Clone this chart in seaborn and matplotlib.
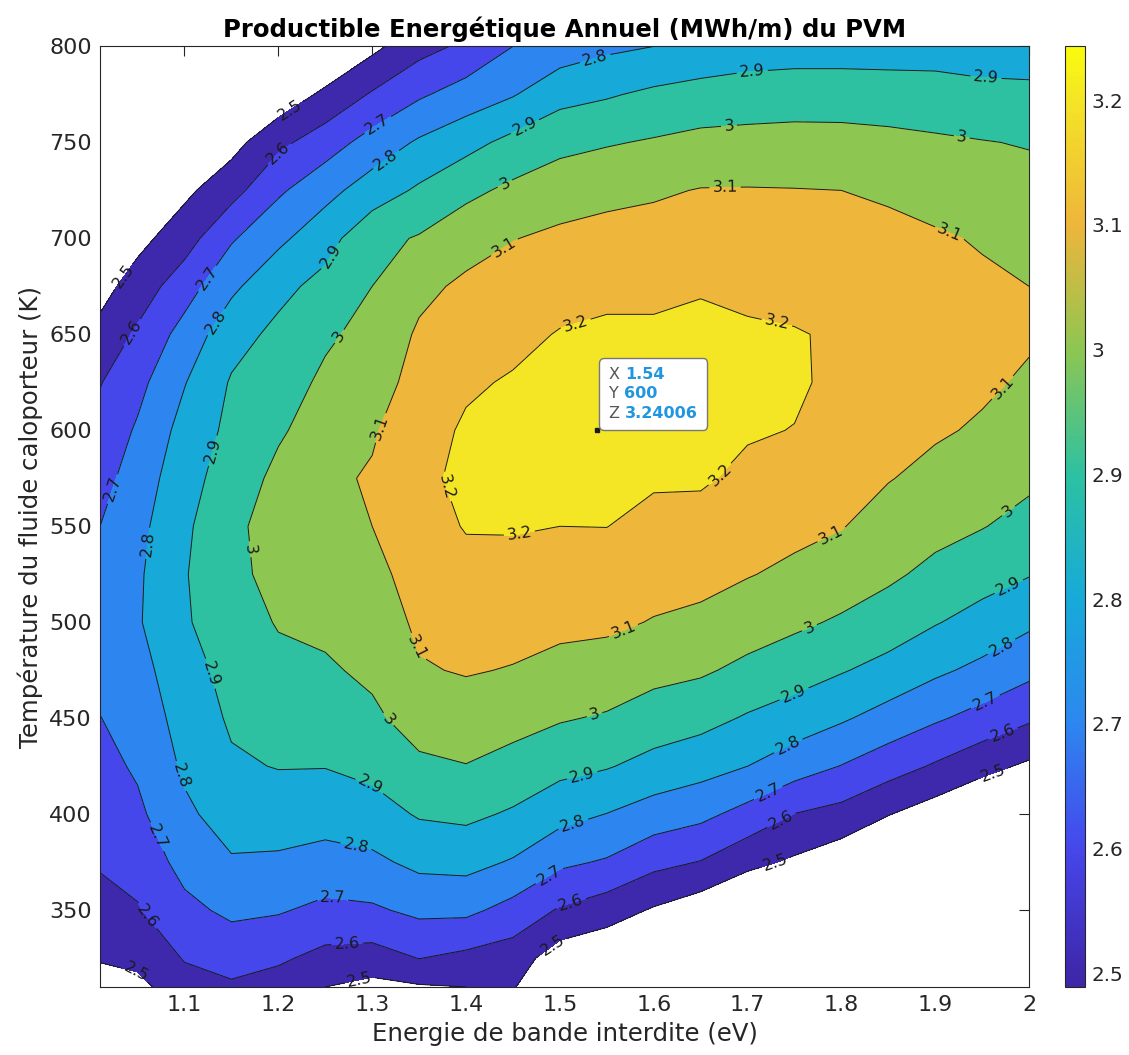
import numpy as np
import pandas as pd
import matplotlib
matplotlib.use("Agg")
import matplotlib.pyplot as plt
import seaborn as sns
from matplotlib.colors import LinearSegmentedColormap, Normalize
from matplotlib.cm import ScalarMappable
from matplotlib.offsetbox import TextArea, HPacker, VPacker, AnnotationBbox

# band gap (eV) and coolant temperature (K) grid
gap_ev = [1.01, 1.05, 1.1, 1.15, 1.2, 1.25, 1.3, 1.35, 1.4, 1.45, 1.5,
          1.55, 1.6, 1.65, 1.7, 1.75, 1.8, 1.85, 1.9, 1.95, 2.0]
temp_k = [310, 325, 350, 375, 400, 425, 450, 475, 500, 525, 550,
          575, 600, 625, 650, 675, 700, 725, 750, 775, 800]

# annual yield (MWh/m), one list per temperature
z_310 = [2.45, 2.47, 2.564, 2.586, 2.558, 2.50, 2.47, 2.49, 2.50, 2.51, 2.36, 2.31, 2.25, 2.20, 2.15, 2.10, 2.05, 2.05, 2.00, 1.98, 1.96]
z_325 = [2.509, 2.528, 2.606, 2.638, 2.615, 2.571, 2.559, 2.602, 2.575, 2.55, 2.447, 2.416, 2.35, 2.29, 2.23, 2.21, 2.16, 2.09, 2.06, 2.03, 2.00]
z_350 = [2.564, 2.592, 2.675, 2.72, 2.709, 2.676, 2.686, 2.722, 2.723, 2.666, 2.59, 2.547, 2.49, 2.44, 2.38, 2.346, 2.30, 2.23, 2.175, 2.12, 2.07]
z_375 = [2.61, 2.637, 2.732, 2.791, 2.785, 2.766, 2.779, 2.824, 2.831, 2.791, 2.719, 2.69, 2.628, 2.596, 2.528, 2.484, 2.434, 2.37, 2.313, 2.258, 2.21]
z_400 = [2.64, 2.68, 2.782, 2.841, 2.848, 2.839, 2.859, 2.909, 2.921, 2.888, 2.833, 2.798, 2.755, 2.725, 2.667, 2.598, 2.568, 2.504, 2.45, 2.395, 2.346]
z_425 = [2.669, 2.713, 2.815, 2.887, 2.904, 2.903, 2.927, 2.982, 2.997, 2.967, 2.929, 2.907, 2.868, 2.838, 2.80, 2.746, 2.697, 2.644, 2.589, 2.531, 2.483]
z_450 = [2.698, 2.739, 2.839, 2.913, 2.938, 2.946, 2.982, 3.04, 3.055, 3.034, 3.008, 2.99, 2.955, 2.932, 2.89, 2.855, 2.812, 2.762, 2.713, 2.666, 2.614]
z_475 = [2.73, 2.764, 2.863, 2.931, 2.973, 2.988, 3.018, 3.092, 3.107, 3.095, 3.073, 3.06, 3.029, 3.013, 2.977, 2.944, 2.907, 2.868, 2.818, 2.776, 2.726]
z_500 = [2.75, 2.79, 2.89, 2.952, 3.007, 3.02, 3.046, 3.117, 3.141, 3.135, 3.122, 3.118, 3.095, 3.079, 3.046, 3.018, 2.988, 2.952, 2.906, 2.864, 2.818]
z_525 = [2.73, 2.785, 2.894, 2.968, 3.039, 3.047, 3.073, 3.138, 3.175, 3.174, 3.161, 3.16, 3.137, 3.129, 3.105, 3.08, 3.051, 3.017, 2.975, 2.939, 2.905]
z_550 = [2.70, 2.77, 2.885, 2.965, 3.064, 3.08, 3.10, 3.165, 3.205, 3.206, 3.20, 3.201, 3.177, 3.172, 3.143, 3.125, 3.104, 3.064, 3.03, 3.004, 2.969]
z_575 = [2.666, 2.745, 2.862, 2.948, 3.023, 3.08, 3.11, 3.175, 3.224, 3.224, 3.225, 3.225, 3.21, 3.21, 3.182, 3.161, 3.128, 3.104, 3.076, 3.047, 3.018]
z_600 = [2.632, 2.712, 2.835, 2.925, 2.988, 3.044, 3.089, 3.165, 3.211, 3.233, 3.24, 3.24, 3.235, 3.232, 3.208, 3.198, 3.152, 3.126, 3.11, 3.09, 3.054]
z_625 = [2.595, 2.671, 2.795, 2.909, 2.956, 3.018, 3.06, 3.132, 3.188, 3.208, 3.228, 3.237, 3.238, 3.235, 3.226, 3.212, 3.18, 3.155, 3.13, 3.113, 3.089]
z_650 = [2.529, 2.616, 2.737, 2.863, 2.923, 2.985, 3.03, 3.113, 3.153, 3.177, 3.205, 3.215, 3.215, 3.22, 3.212, 3.205, 3.19, 3.17, 3.15, 3.13, 3.11]
z_675 = [2.464, 2.545, 2.655, 2.779, 2.873, 2.93, 3.0, 3.076, 3.118, 3.138, 3.165, 3.179, 3.179, 3.193, 3.18, 3.174, 3.175, 3.16, 3.135, 3.114, 3.10]
z_700 = [2.40, 2.47, 2.556, 2.689, 2.778, 2.862, 2.971, 3.008, 3.061, 3.097, 3.119, 3.132, 3.136, 3.148, 3.142, 3.139, 3.129, 3.121, 3.11, 3.093, 3.066]
z_725 = [2.34, 2.40, 2.478, 2.564, 2.684, 2.768, 2.848, 2.915, 2.976, 3.021, 3.055, 3.074, 3.088, 3.104, 3.105, 3.103, 3.10, 3.089, 3.068, 3.048, 3.032]
z_750 = [2.28, 2.33, 2.40, 2.464, 2.576, 2.652, 2.739, 2.813, 2.868, 2.928, 2.972, 2.992, 3.009, 3.028, 3.033, 3.036, 3.034, 3.026, 3.015, 3.004, 2.994]
z_775 = [2.22, 2.26, 2.32, 2.37, 2.43, 2.522, 2.61, 2.686, 2.743, 2.793, 2.867, 2.89, 2.919, 2.935, 2.945, 2.952, 2.952, 2.947, 2.938, 2.927, 2.922]
z_800 = [2.16, 2.19, 2.24, 2.28, 2.33, 2.38, 2.475, 2.565, 2.62, 2.70, 2.745, 2.78, 2.80, 2.83, 2.85, 2.855, 2.855, 2.855, 2.86, 2.85, 2.85]

levels = [2.5, 2.6, 2.7, 2.8, 2.9, 3.0, 3.1, 3.2]
clim = (2.489, 3.243)

# data tip
tip_x, tip_y, tip_z = 1.54, 600, 3.24006

# where the contour labels sit (layout only)
label_spots = [
    (1.212, 767), (1.201, 744), (1.305, 760), (1.312, 743), (1.461, 760),
    (1.44, 730), (1.44, 696), (1.036, 680), (1.041, 652), (1.116, 682),
    (1.132, 657), (1.258, 690), (1.265, 649), (1.305, 602), (1.369, 569),
    (1.118, 591), (1.02, 570), (1.063, 541), (1.168, 538), (1.458, 543),
    (1.111, 471), (1.337, 485), (1.312, 447), (1.091, 419), (1.297, 414),
    (1.07, 388), (1.283, 384), (1.258, 357), (1.063, 348), (1.273, 334),
    (1.048, 317), (1.287, 313), (1.491, 366), (1.513, 352), (1.493, 331),
    (1.538, 793), (1.705, 786), (1.954, 783), (1.68, 760), (1.929, 755),
    (1.676, 727), (1.918, 706), (1.516, 657), (1.733, 660), (1.979, 619),
    (1.673, 576), (1.978, 558), (1.79, 545), (1.57, 493), (1.767, 496),
    (1.538, 450), (1.751, 461), (1.979, 518), (1.525, 418), (1.744, 435),
    (1.972, 486), (1.516, 392), (1.723, 410), (1.954, 458), (1.74, 393),
    (1.972, 442), (1.73, 374), (1.961, 422),
]

grid = pd.DataFrame([z_310, z_325, z_350, z_375, z_400, z_425, z_450,
                     z_475, z_500, z_525, z_550, z_575, z_600, z_625,
                     z_650, z_675, z_700, z_725, z_750, z_775, z_800],
                    index=temp_k, columns=gap_ev)

sns.set_theme(style="white")
plt.rcParams['font.family'] = ['DejaVu Sans']

# parula-like map, anchored on the band colours
anchor_cols = ["#3E26A8", "#3E28AD", "#4647EC", "#2D87F0", "#17AAD9",
               "#2DC1A2", "#8DC652", "#EEB53B", "#F4E426", "#F9FB0E"]
norm = Normalize(*clim)
anchor_pos = [0.0] + [float(norm(l)) for l in levels] + [1.0]
cmap = LinearSegmentedColormap.from_list("parula_ish", list(zip(anchor_pos, anchor_cols)))
band_cols = [cmap(norm(l)) for l in levels]

fig = plt.figure(figsize=(11.29, 10.55), dpi=100)
ax = fig.add_axes([0.0886, 0.0645, 0.8229, 0.8915])
cax = fig.add_axes([0.9433, 0.0645, 0.0177, 0.8915])

X, Y = np.meshgrid(grid.columns.values, grid.index.values)
Z = grid.values
ax.contourf(X, Y, Z, levels=levels + [clim[1]], colors=band_cols)
cl = ax.contour(X, Y, Z, levels=levels, colors="k", linewidths=0.7)
ax.clabel(cl, fmt="%g", fontsize=11.5, inline=True, inline_spacing=3,
          manual=label_spots)

ax.set_xlim(1.01, 2.0)
ax.set_ylim(310, 800)
ax.set_xticks([1.1, 1.2, 1.3, 1.4, 1.5, 1.6, 1.7, 1.8, 1.9, 2.0])
ax.set_xticklabels(["1.1", "1.2", "1.3", "1.4", "1.5", "1.6", "1.7", "1.8", "1.9", "2"])
ax.set_yticks(range(350, 801, 50))
ax.tick_params(direction="in", length=7, width=0.8, top=True, right=True,
               labelsize=16, colors="#262626", labelcolor="#262626", pad=6)
for s in ax.spines.values():
    s.set_color("#262626")
    s.set_linewidth(0.8)

ax.set_xlabel("Energie de bande interdite (eV)", fontsize=17.6, color="#262626", labelpad=5)
ax.set_ylabel("Température du fluide caloporteur (K)", fontsize=17.6, color="#262626", labelpad=4)
ax.set_title("Productible Energétique Annuel (MWh/m) du PVM", fontsize=17.6,
             fontweight="bold", pad=7, color="black")

# data tip box
ax.plot([tip_x], [tip_y], marker="s", ms=3, color="k")
def tip_row(key, val):
    return HPacker(children=[TextArea(key, textprops=dict(color="#555555", size=11.5)),
                             TextArea(val, textprops=dict(color="#2196E0", size=11.5, weight="bold"))],
                   sep=4, align="baseline")
box = VPacker(children=[tip_row("X", f"{tip_x:g}"), tip_row("Y", f"{tip_y:g}"),
                        tip_row("Z", f"{tip_z:g}")], sep=3)
ab = AnnotationBbox(box, (tip_x, tip_y), xybox=(8, 7), xycoords="data",
                    boxcoords="offset points", box_alignment=(0, 0), pad=0.6,
                    bboxprops=dict(boxstyle="round,pad=0.6,rounding_size=0.3",
                                   fc="white", ec="#777777", lw=1))
ax.add_artist(ab)

cb = fig.colorbar(ScalarMappable(norm=norm, cmap=cmap), cax=cax, ticks=levels)
cb.ax.set_yticklabels([f"{l:g}" for l in levels])
cb.ax.tick_params(direction="in", length=6, labelsize=14.4, colors="#262626", pad=5)
cb.outline.set_edgecolor("#262626")
cb.outline.set_linewidth(0.8)

fig.savefig("out.png", dpi=100)
